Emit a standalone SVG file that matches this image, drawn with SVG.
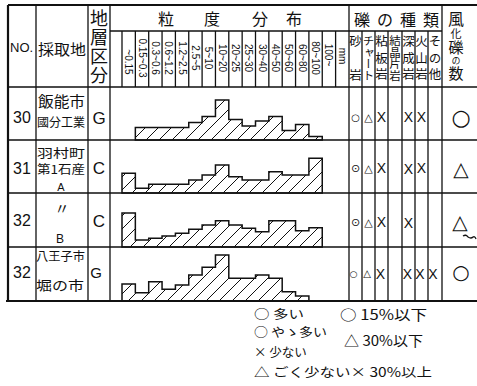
<svg xmlns="http://www.w3.org/2000/svg" width="477" height="386" viewBox="0 0 477 386">
<style>
.ln{stroke:#111;stroke-width:1.3;fill:none}
.bd{stroke:#111;stroke-width:2.2;fill:none}
.hs{stroke:#111;stroke-width:1.5;fill:url(#hatch)}
.j{font-family:"Noto Sans CJK JP",sans-serif;fill:#111}
.r{font-family:"Liberation Sans",sans-serif;fill:#111}
.sz{font-family:"Liberation Sans",sans-serif;font-size:10px;fill:#111}
.v{font-family:"Noto Sans CJK JP",sans-serif;fill:#111;writing-mode:vertical-rl}
.mk{font-family:"DejaVu Sans",sans-serif;fill:#111;text-anchor:middle}
</style>
<defs>
<pattern id="hatch" patternUnits="userSpaceOnUse" width="13" height="13">
<path d="M0,13 L13,0 M-3,3 L3,-3 M10,16 L16,10" stroke="#111" stroke-width="1"/>
</pattern>
</defs>
<rect width="477" height="386" fill="#fff"/>

<g id="grid">
<path class="bd" d="M8,5 H477 M8,5 V301 M6,301 H477"/>
<path class="ln" d="M8,87 H477 M8,140 H477 M8,193 H477 M8,247 H477"/>
<path class="ln" d="M36,5 V301 M88,5 V301 M110,5 V301 M349,5 V301 M442,5 V301"/>
<path class="ln" d="M110,31 H442"/>
<path class="ln" d="M122,31 V87 M135.35,31 V87 M148.7,31 V87 M162.05,31 V87 M175.4,31 V87 M188.75,31 V87 M202.1,31 V87 M215.45,31 V87 M228.8,31 V87 M242.15,31 V87 M255.5,31 V87 M268.85,31 V87 M282.2,31 V87 M295.55,31 V87 M308.9,31 V87 M322.25,31 V87 M335.6,31 V87"/>
<path class="ln" d="M362,31 V301 M375,31 V301 M388,31 V301 M402,31 V301 M415,31 V301 M428,31 V301"/>
</g>

<g id="header">
<text class="r" x="10" y="52" font-size="13">NO.</text>
<text class="j" x="38" y="55" font-size="15" textLength="48" lengthAdjust="spacingAndGlyphs">採取地</text>
<text class="v" x="99" y="9" font-size="18" letter-spacing="1.2">地層区分</text>
<g class="j" font-size="16" text-anchor="middle">
<text x="166" y="25">粒</text>
<text x="212" y="25">度</text>
<text x="260" y="25">分</text>
<text x="294" y="25">布</text>
<text x="362" y="26">礫</text>
<text x="385" y="26">の</text>
<text x="408" y="26">種</text>
<text x="431" y="26">類</text>
</g>
<text class="v" x="456" y="11" letter-spacing="1"><tspan font-size="16">風</tspan><tspan font-size="11">化</tspan><tspan font-size="15">礫</tspan><tspan font-size="9">の</tspan><tspan font-size="15">数</tspan></text>
<g class="sz" text-anchor="middle">
<text transform="translate(128.7,62) rotate(90)" dy="3.5">~0.15</text>
<text transform="translate(142,58) rotate(90)" dy="3.5">0.15~0.3</text>
<text transform="translate(155.4,58) rotate(90)" dy="3.5">0.3~0.6</text>
<text transform="translate(168.7,58) rotate(90)" dy="3.5">0.6~1.2</text>
<text transform="translate(182.1,58) rotate(90)" dy="3.5">1.2~2.5</text>
<text transform="translate(195.4,58) rotate(90)" dy="3.5">2.5~5</text>
<text transform="translate(208.8,58) rotate(90)" dy="3.5">5~10</text>
<text transform="translate(222.1,58) rotate(90)" dy="3.5">10~20</text>
<text transform="translate(235.5,58) rotate(90)" dy="3.5">20~25</text>
<text transform="translate(248.8,58) rotate(90)" dy="3.5">25~30</text>
<text transform="translate(262.2,58) rotate(90)" dy="3.5">30~40</text>
<text transform="translate(275.5,58) rotate(90)" dy="3.5">40~50</text>
<text transform="translate(288.9,58) rotate(90)" dy="3.5">50~60</text>
<text transform="translate(302.2,58) rotate(90)" dy="3.5">60~80</text>
<text transform="translate(315.6,58) rotate(90)" dy="3.5">80~100</text>
<text transform="translate(328.9,55) rotate(90)" dy="3.5">100~</text>
<text transform="translate(342.3,56) rotate(90)" dy="3.5">mm</text>
</g>
<g class="v">
<text x="355.5" y="35" font-size="12.5">砂</text>
<text x="355.5" y="69" font-size="12.5">岩</text>
<text x="368.5" y="35" font-size="11.5">チャート</text>
<text x="381.5" y="35" font-size="12.5" letter-spacing="4">粘板岩</text>
<text x="395" y="35" font-size="11.5">結晶片岩</text>
<text x="408.5" y="35" font-size="12.5" letter-spacing="4">深成岩</text>
<text x="421.5" y="35" font-size="12.5" letter-spacing="4">火山岩</text>
<text x="435" y="35" font-size="12.5" letter-spacing="4">その他</text>
</g>
</g>

<g id="row30">
<text class="r" x="22" y="123" font-size="16" text-anchor="middle">30</text>
<text class="j" x="38" y="107" font-size="15" textLength="47" lengthAdjust="spacingAndGlyphs">飯能市</text>
<text class="j" x="37" y="127" font-size="12" textLength="48" lengthAdjust="spacingAndGlyphs">國分工業</text>
<text class="r" x="99" y="124" font-size="17" text-anchor="middle">G</text>
<path class="hs" d="M135.35,140 V127.5 H188.75 V122.5 H202.1 V116.5 H215.45 V100 H228.8 V119.5 H242.15 V126 H255.5 V121 H268.85 V116.5 H282.2 V130.5 H295.55 V124.5 H308.9 V136.5 H322.25 V140 Z"/>
<g class="mk">
<text x="355.5" y="121" font-size="10">○</text>
<text x="368.5" y="121" font-size="11">△</text>
<text x="381.5" y="122" font-size="14" class="r">X</text>
<text x="408.5" y="122" font-size="14" class="r">X</text>
<text x="421.5" y="122" font-size="14" class="r">X</text>
<text x="461" y="125" font-size="22">○</text>
</g>
</g>

<g id="row31">
<text class="r" x="22" y="174" font-size="16" text-anchor="middle">31</text>
<text class="j" x="37" y="158" font-size="12" textLength="48" lengthAdjust="spacingAndGlyphs">羽村町</text>
<text class="j" x="37" y="174" font-size="12" textLength="48" lengthAdjust="spacingAndGlyphs">第1石産</text>
<text class="r" x="61" y="191" font-size="11" text-anchor="middle">A</text>
<text class="r" x="99" y="174" font-size="17" text-anchor="middle">C</text>
<path class="hs" d="M122,193 V173.3 H135.35 V188.3 H148.7 V184.3 H188.75 V180 H202.1 V175 H215.45 V165 H228.8 V176.7 H242.15 V180 H268.85 V171.7 H282.2 V175 H308.9 V158.3 H322.25 V193 Z"/>
<g class="mk">
<text x="355.5" y="172" font-size="11">⊙</text>
<text x="368.5" y="172" font-size="11">△</text>
<text x="381.5" y="173" font-size="14" class="r">X</text>
<text x="408.5" y="174" font-size="14" class="r">X</text>
<text x="421.5" y="173" font-size="14" class="r">X</text>
<text x="461" y="176" font-size="20">△</text>
</g>
</g>

<g id="row32b">
<text class="r" x="22" y="226" font-size="16" text-anchor="middle">32</text>
<text class="j" x="62" y="214" font-size="15" text-anchor="middle">〃</text>
<text class="r" x="60" y="243" font-size="12" text-anchor="middle">B</text>
<text class="r" x="99" y="227" font-size="17" text-anchor="middle">C</text>
<path class="hs" d="M122,247 V213 H135.35 V240 H148.7 V238.3 H162.05 V236 H175.4 V233.3 H188.75 V229.3 H202.1 V225 H215.45 V220.7 H228.8 V225 H242.15 V228.3 H255.5 V231.7 H268.85 V220.7 H295.55 V230.7 H308.9 V227.7 H322.25 V247 Z"/>
<g class="mk">
<text x="355.5" y="226" font-size="11">⊙</text>
<text x="368.5" y="226" font-size="11">△</text>
<text x="381.5" y="227" font-size="14" class="r">X</text>
<text x="408.5" y="228" font-size="14" class="r">X</text>
<text x="460" y="229" font-size="20">△</text>
</g>
<path class="ln" stroke-width="1" d="M463,236 q3,-2 5,1 q3,2 5,0 q2,-1 3,2"/>
</g>

<g id="row32">
<text class="r" x="22" y="278" font-size="16" text-anchor="middle">32</text>
<text class="j" x="36" y="261" font-size="12" textLength="49" lengthAdjust="spacingAndGlyphs">八王子市</text>
<text class="j" x="36" y="290" font-size="13" textLength="48" lengthAdjust="spacingAndGlyphs">堀の市</text>
<text class="r" x="96" y="278" font-size="15" text-anchor="middle">G</text>
<path class="hs" d="M122,301 V284 H135.35 V292.7 H148.7 V281.7 H162.05 V289.3 H175.4 V285 H188.75 V275 H202.1 V267.3 H215.45 V255 H228.8 V278.3 H255.5 V275 H268.85 V278.3 H282.2 V291.7 H295.55 V296 H308.9 V301 Z"/>
<g class="mk">
<text x="353.5" y="277" font-size="9">○</text>
<text x="367" y="277" font-size="10">△</text>
<text x="380.5" y="279" font-size="14" class="r">X</text>
<text x="407.5" y="279" font-size="14" class="r">X</text>
<text x="420" y="279" font-size="14" class="r">X</text>
<text x="433" y="279" font-size="14" class="r">X</text>
<text x="461" y="279" font-size="20">○</text>
</g>
</g>

<g id="legend" class="j" font-size="12.5">
<text x="254" y="319" textLength="50" lengthAdjust="spacingAndGlyphs">○ 多い</text>
<text x="254" y="337" textLength="73" lengthAdjust="spacingAndGlyphs">○ やゝ多い</text>
<text x="254" y="357">× 少ない</text>
<text x="254" y="377" textLength="178" lengthAdjust="spacingAndGlyphs">△ ごく少ない× 30%以上</text>
<text x="340" y="320" font-size="14" textLength="87" lengthAdjust="spacingAndGlyphs">○ 15%以下</text>
<text x="344" y="346" font-size="14" textLength="79" lengthAdjust="spacingAndGlyphs">△ 30%以下</text>
</g>
</svg>
